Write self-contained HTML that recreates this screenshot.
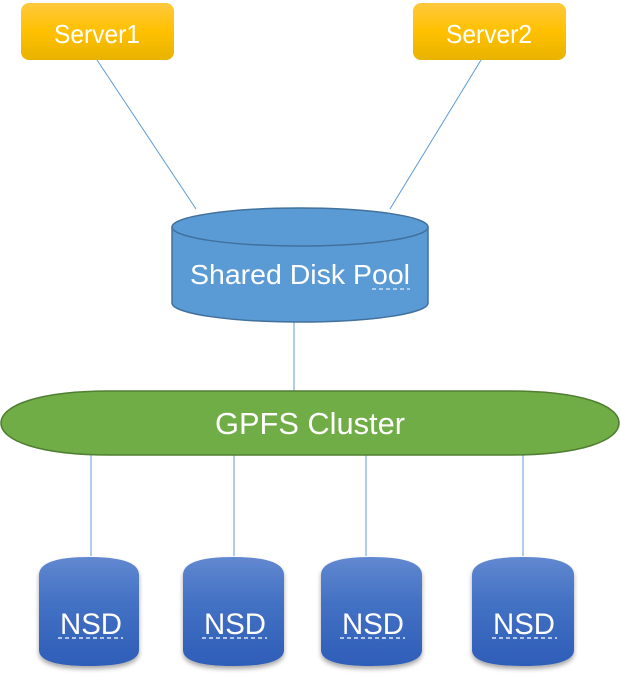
<!DOCTYPE html>
<html><head><style>body{margin:0;background:#fff}</style></head><body>
<svg width="620" height="681" xmlns="http://www.w3.org/2000/svg" font-family="Liberation Sans, sans-serif">
<defs>
<linearGradient id="y" x1="0" y1="0" x2="0" y2="1"><stop offset="0" stop-color="#ffc93d"/><stop offset="0.5" stop-color="#ffc000"/><stop offset="1" stop-color="#e8b300"/></linearGradient>
<linearGradient id="b" x1="0" y1="0" x2="0" y2="1"><stop offset="0" stop-color="#6288d0"/><stop offset="0.4" stop-color="#4472c4"/><stop offset="1" stop-color="#2e5db8"/></linearGradient>
<filter id="s" x="-20%" y="-20%" width="140%" height="140%"><feDropShadow dx="0" dy="3" stdDeviation="2.5" flood-color="#000" flood-opacity="0.35"/></filter>
</defs>
<g stroke="#5b9bd5" stroke-width="1">
<line x1="97" y1="60" x2="196" y2="209"/>
<line x1="481" y1="60" x2="390" y2="209"/>
<line x1="294" y1="322" x2="294" y2="391"/>
<line x1="91" y1="455" x2="91" y2="556"/>
<line x1="234" y1="455" x2="234" y2="556"/>
<line x1="366" y1="455" x2="366" y2="556"/>
<line x1="523" y1="455" x2="523" y2="556"/>
</g>
<rect x="21" y="3" width="153" height="57" rx="8" fill="url(#y)"/>
<rect x="413" y="3" width="153" height="57" rx="8" fill="url(#y)"/>
<text x="97" y="43" font-size="26" fill="#fff" text-anchor="middle" textLength="86" lengthAdjust="spacingAndGlyphs">Server1</text>
<text x="489" y="43" font-size="26" fill="#fff" text-anchor="middle" textLength="86" lengthAdjust="spacingAndGlyphs">Server2</text>
<path d="M172 227 A128 19 0 0 1 428 227 V303 A128 19 0 0 1 172 303 Z" fill="#5b9bd5" stroke="#41719c" stroke-width="1.5"/>
<path d="M172 227 A128 19 0 0 0 428 227" fill="none" stroke="#41719c" stroke-width="1.5"/>
<text x="300" y="284" font-size="28" fill="#fff" text-anchor="middle" textLength="220" lengthAdjust="spacingAndGlyphs">Shared Disk Pool</text>
<line x1="372" y1="289" x2="410" y2="289" stroke="#fff" stroke-width="1" stroke-dasharray="4,3"/>
<path d="M110 391 H510 C580 391 619 405 619 423 C619 441 580 455 510 455 H110 C40 455 1 441 1 423 C1 405 40 391 110 391 Z" fill="#70ad47" stroke="#507e32" stroke-width="1.5"/>
<text x="310" y="434" font-size="31" fill="#fff" text-anchor="middle" textLength="190" lengthAdjust="spacingAndGlyphs">GPFS Cluster</text>
<g filter="url(#s)" fill="url(#b)">
<path d="M39 575 Q39 557 89 557 Q139 557 139 575 V650 Q139 666 89 666 Q39 666 39 650 Z"/>
<path d="M183 575 Q183 557 233 557 Q284 557 284 575 V650 Q284 666 233 666 Q183 666 183 650 Z"/>
<path d="M321 575 Q321 557 371 557 Q422 557 422 575 V650 Q422 666 371 666 Q321 666 321 650 Z"/>
<path d="M472 575 Q472 557 523 557 Q574 557 574 575 V650 Q574 666 523 666 Q472 666 472 650 Z"/>
</g>
<g font-size="30" fill="#fff" text-anchor="middle">
<text x="91" y="634" textLength="62" lengthAdjust="spacingAndGlyphs">NSD</text><text x="235" y="634" textLength="62" lengthAdjust="spacingAndGlyphs">NSD</text><text x="373" y="634" textLength="62" lengthAdjust="spacingAndGlyphs">NSD</text><text x="524" y="634" textLength="62" lengthAdjust="spacingAndGlyphs">NSD</text>
</g>
<g stroke="#fff" stroke-width="1.2" stroke-dasharray="4,3">
<line x1="58" y1="638" x2="123" y2="638"/><line x1="202" y1="638" x2="267" y2="638"/><line x1="340" y1="638" x2="405" y2="638"/><line x1="492" y1="638" x2="557" y2="638"/>
</g>
</svg>
</body></html>
